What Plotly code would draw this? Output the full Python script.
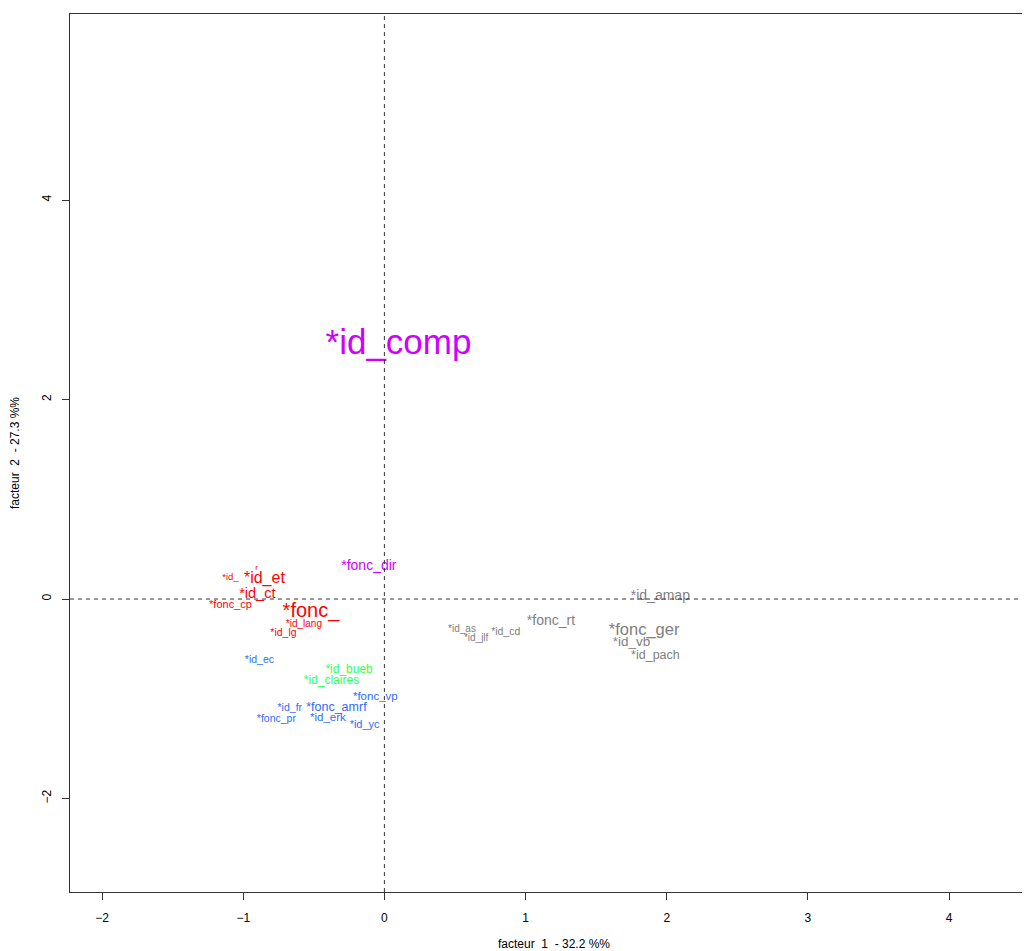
import plotly.graph_objects as go

labels = ["*id_comp", "*fonc_dir",
          "r", "*id_", "*id_et", "*id_ct", "*fonc_cp", "*fonc_", "*id_lang", "*id_lg",
          "*id_ec", "*fonc_vp", "*id_fr", "*fonc_amrf", "*fonc_pr", "*id_erk", "*id_yc",
          "*id_bueb", "*id_claires",
          "*id_amap", "*fonc_rt", "*fonc_ger", "*id_vb", "*id_pach", "*id_as", "*id_jlf", "*id_cd"]
fx = [0.10, -0.11,
      -0.906, -1.09, -0.85, -0.90, -1.09, -0.52, -0.57, -0.715,
      -0.885, -0.064, -0.67, -0.34, -0.765, -0.40, -0.14,
      -0.25, -0.375,
      1.955, 1.18, 1.84, 1.75, 1.92, 0.55, 0.65, 0.86]
fy = [2.54, 0.33,
      0.31, 0.21, 0.20, 0.05, -0.06, -0.13, -0.26, -0.34,
      -0.61, -0.98, -1.10, -1.09, -1.21, -1.19, -1.27,
      -0.71, -0.82,
      0.03, -0.23, -0.32, -0.44, -0.57, -0.31, -0.40, -0.33]
groups = ["m", "m",
          "r", "r", "r", "r", "r", "r", "r", "r",
          "b", "b", "b", "b", "b", "b", "b",
          "g", "g",
          "k", "k", "k", "k", "k", "k", "k", "k"]
sizes = [35, 14,
         8, 9.5, 16, 14.5, 11, 20, 10, 10.5,
         10.5, 11.5, 10.5, 12.5, 10.5, 11.5, 11,
         12, 12,
         14, 14, 16.5, 13.5, 12.5, 10, 10, 10.5]
group_colors = {"m": "#D000FF", "r": "#FF0000", "b": "#2F6BFF", "g": "#33FF55", "k": "#808080"}

x_range = [-2.227, 4.63]
y_range = [-2.937, 5.865]
x_ticks = [-2, -1, 0, 1, 2, 3, 4]
y_ticks = [-2, 0, 2, 4]

fig = go.Figure()
fig.add_trace(go.Scatter(
    x=fx, y=fy, mode="text", text=labels,
    textposition="middle center",
    textfont=dict(family="Liberation Sans, Arial, sans-serif",
                  size=sizes, color=[group_colors[g] for g in groups]),
    hoverinfo="skip", showlegend=False, cliponaxis=True))

fig.add_shape(type="line", xref="x", yref="paper", x0=0, x1=0, y0=0, y1=1,
              line=dict(color="#333333", width=1, dash="4px,4px"))
fig.add_shape(type="line", xref="paper", yref="y", x0=0, x1=1, y0=0, y1=0,
              line=dict(color="#333333", width=1, dash="4px,4px"))

tickfont = dict(family="Liberation Sans Narrow, Liberation Sans, Arial", size=12, color="#000000")
titlefont = dict(family="Liberation Sans Narrow, Liberation Sans, Arial", size=12, color="#000000")
fig.update_layout(
    width=1030, height=943,
    margin=dict(l=62, r=0, t=6, b=59),
    paper_bgcolor="white", plot_bgcolor="white",
    xaxis=dict(range=x_range, tickvals=x_ticks, ticks="outside", ticklen=7,
               tickcolor="#333333", showline=True, linecolor="#333333", linewidth=1,
               mirror=True, showgrid=False, zeroline=False, tickfont=tickfont,
               ticklabelstandoff=8,
               title=dict(text="facteur  1  - 32.2 %%", font=titlefont, standoff=15)),
    yaxis=dict(range=y_range, tickvals=y_ticks, ticks="outside", ticklen=7,
               tickcolor="#333333", showline=True, linecolor="#333333", linewidth=1,
               mirror=False, showgrid=False, zeroline=False, tickfont=tickfont,
               tickangle=-90, ticklabelstandoff=6,
               title=dict(text="facteur  2  - 27.3 %%", font=titlefont, standoff=20)),
)

fig.write_html("out.html")
